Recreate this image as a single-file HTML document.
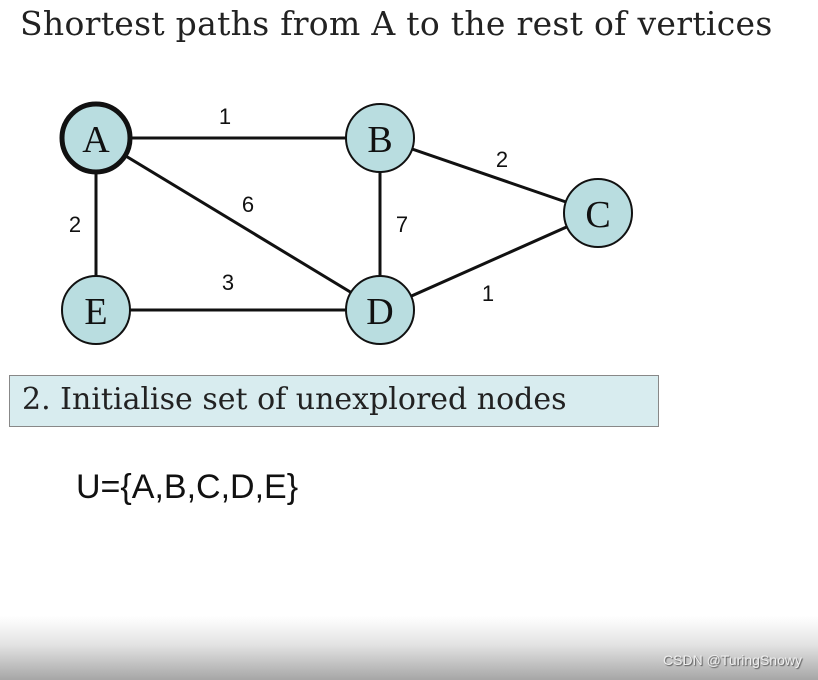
<!DOCTYPE html>
<html><head><style>
body{margin:0;width:818px;height:680px;overflow:hidden;background:#fff;position:relative;font-family:"Liberation Serif",serif}
.t{position:absolute;left:20px;top:4px;color:#222;font-family:"DejaVu Serif","Liberation Serif",serif;font-size:33px;letter-spacing:0.3px}
.box{position:absolute;left:9px;top:375px;width:650px;height:52px;background:#d8ecef;border:1px solid #888;box-sizing:border-box}
.box span{position:absolute;left:12px;top:6px;color:#222;font-family:"DejaVu Serif","Liberation Serif",serif;font-size:30px}
.u{position:absolute;left:76px;top:468px;font-size:34px;font-family:"Liberation Sans",sans-serif;color:#111}
.g{position:absolute;left:0;top:600px;width:818px;height:80px;background:linear-gradient(#fff 0%,#fff 20%,#e4e4e4 55%,#a6a6a6 100%)}
.w{position:absolute;right:16px;top:652px;font-family:"Liberation Sans",sans-serif;font-size:14px;color:#eee;text-shadow:1px 1px 1px #555}
</style></head><body>
<div class="t">Shortest paths from A to the rest of vertices</div>
<svg width="818" height="680" style="position:absolute;left:0;top:0">
<g stroke="#111" stroke-width="3">
<line x1="96" y1="138" x2="380" y2="138"/>
<line x1="96" y1="138" x2="380" y2="310"/>
<line x1="96" y1="138" x2="96" y2="310"/>
<line x1="96" y1="310" x2="380" y2="310"/>
<line x1="380" y1="138" x2="380" y2="310"/>
<line x1="380" y1="138" x2="598" y2="213"/>
<line x1="380" y1="310" x2="598" y2="213"/>
</g>
<g fill="#b9dde0" stroke="#111" stroke-width="2">
<circle cx="96" cy="138" r="34" stroke-width="5"/>
<circle cx="380" cy="138" r="34"/>
<circle cx="598" cy="213" r="34"/>
<circle cx="380" cy="310" r="34"/>
<circle cx="96" cy="310" r="34"/>
</g>
<g font-family="Liberation Serif,serif" font-size="38" text-anchor="middle" fill="#111">
<text x="96" y="152">A</text><text x="380" y="152">B</text><text x="598" y="227">C</text><text x="380" y="324">D</text><text x="96" y="324">E</text>
</g>
<g font-family="Liberation Sans,sans-serif" font-size="22" text-anchor="middle" fill="#111">
<text x="225" y="124">1</text><text x="248" y="212">6</text><text x="75" y="232">2</text><text x="228" y="290">3</text><text x="402" y="232">7</text><text x="502" y="167">2</text><text x="488" y="301">1</text>
</g>
</svg>
<div class="box"><span>2. Initialise set of unexplored nodes</span></div>
<div class="u">U={A,B,C,D,E}</div>
<div class="g"></div>
<div class="w">CSDN @TuringSnowy</div>
</body></html>
